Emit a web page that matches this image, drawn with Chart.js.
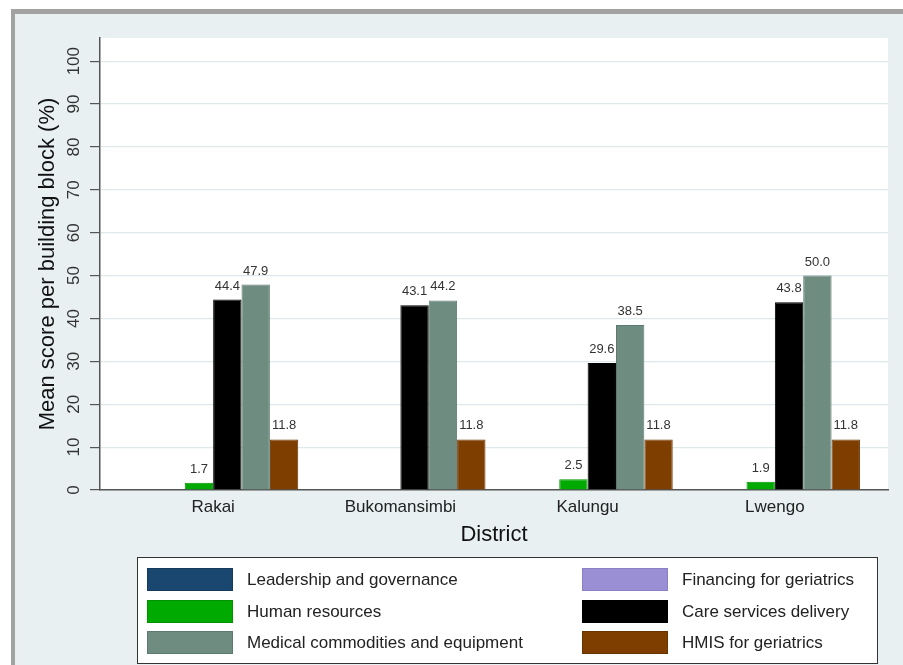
<!DOCTYPE html>
<html>
<head>
<meta charset="utf-8">
<script src="https://cdn.jsdelivr.net/npm/chart.js@4/dist/chart.umd.min.js"></script>
<style>
    html, body { margin: 0; padding: 0; background: #fff; }
    #wrap { width: 903px; height: 665px; position: relative; }
</style>
</head>
<body>
<div id="wrap"><canvas id="chart"></canvas></div>
<script>
// Data (mean score per building block, %)
const districts = ['Rakai', 'Bukomansimbi', 'Kalungu', 'Lwengo'];
const leadership = [0, 0, 0, 0];
const financing = [0, 0, 0, 0];
const humanResources = [1.7, 0, 2.5, 1.9];
const careServices = [44.4, 43.1, 29.6, 43.8];
const medicalCommodities = [47.9, 44.2, 38.5, 50.0];
const hmis = [11.8, 11.8, 11.8, 11.8];
const yTicks = [0, 10, 20, 30, 40, 50, 60, 70, 80, 90, 100];

const FONT = "'Liberation Sans', Arial, sans-serif";
Chart.defaults.font.family = FONT;

// Build points for a linear x axis (district i sits at x = i + 1)
function toPoints(values) {
    return values.map((v, i) => ({ x: i + 1, y: v }));
}

function makeSet(label, values, color, edge) {
    return {
        label: label,
        data: toPoints(values),
        backgroundColor: color,
        borderColor: edge,
        borderWidth: 1,
        categoryPercentage: 0.909,
        barPercentage: 1
    };
}

// Stata-like frame and plot region
const framePlugin = {
    id: 'frame',
    beforeDraw(chart) {
        const ctx = chart.ctx;
        const a = chart.chartArea;
        ctx.save();
        ctx.fillStyle = '#ffffff';
        ctx.fillRect(0, 0, chart.width, chart.height);
        ctx.fillStyle = '#a2a2a2';
        ctx.fillRect(11, 9, chart.width, chart.height);
        ctx.fillStyle = '#e8f0f2';
        ctx.fillRect(15, 14, chart.width, chart.height);
        ctx.fillStyle = '#ffffff';
        ctx.fillRect(a.left, a.top, a.right - a.left, a.bottom - a.top);
        ctx.restore();
    }
};

// Value labels above the bars (zeros are not labelled)
const valueLabels = {
    id: 'valueLabels',
    afterDatasetsDraw(chart) {
        const ctx = chart.ctx;
        ctx.save();
        ctx.font = '13px ' + FONT;
        ctx.fillStyle = '#333333';
        ctx.textAlign = 'center';
        ctx.textBaseline = 'alphabetic';
        chart.data.datasets.forEach((ds, di) => {
            const meta = chart.getDatasetMeta(di);
            meta.data.forEach((bar, i) => {
                const v = ds.data[i].y;
                if (!v) return;
                ctx.fillText(v.toFixed(1), bar.x, bar.y - 10);
            });
        });
        ctx.restore();
    }
};

// Two-column boxed legend below the plot
const boxLegend = {
    id: 'boxLegend',
    afterDraw(chart) {
        const ctx = chart.ctx;
        const box = { x: 137, y: 557, w: 740, h: 106 };
        const colX = [147, 582];
        const rowY = [568, 600, 631];
        ctx.save();
        ctx.fillStyle = '#ffffff';
        ctx.fillRect(box.x, box.y, box.w, box.h);
        ctx.strokeStyle = '#333333';
        ctx.lineWidth = 1;
        ctx.strokeRect(box.x + 0.5, box.y + 0.5, box.w, box.h);
        ctx.font = '17px ' + FONT;
        ctx.textBaseline = 'middle';
        ctx.textAlign = 'left';
        chart.data.datasets.forEach((ds, i) => {
            const x = colX[i % 2];
            const y = rowY[Math.floor(i / 2)];
            ctx.fillStyle = ds.backgroundColor;
            ctx.fillRect(x, y, 86, 23);
            ctx.strokeStyle = ds.borderColor;
            ctx.strokeRect(x + 0.5, y + 0.5, 85, 22);
            ctx.fillStyle = '#222222';
            ctx.fillText(ds.label, x + 100, y + 12);
        });
        ctx.restore();
    }
};

const ctx = document.getElementById('chart').getContext('2d');
new Chart(ctx, {
    type: 'bar',
    data: {
        datasets: [
            makeSet('Leadership and governance', leadership, '#1a476f', '#153a5b'),
            makeSet('Financing for geriatrics', financing, '#9a8fd4', '#8a80c4'),
            makeSet('Human resources', humanResources, '#00aa00', '#009400'),
            makeSet('Care services delivery', careServices, '#000000', '#000000'),
            makeSet('Medical commodities and equipment', medicalCommodities, '#6e8c80', '#5e7a6f'),
            makeSet('HMIS for geriatrics', hmis, '#7e3e00', '#6a3400')
        ]
    },
    options: {
        responsive: true,
        maintainAspectRatio: false,
        animation: false,
        layout: {
            padding: { top: 38, right: 15, bottom: 0, left: 0 }
        },
        plugins: {
            legend: { display: false },
            tooltip: { enabled: false }
        },
        scales: {
            x: {
                type: 'linear',
                offset: false,
                min: 0.3957,
                max: 4.6043,
                afterBuildTicks: function(scale) {
                    scale.ticks = districts.map((d, i) => ({ value: i + 1 }));
                },
                afterFit: function(scale) {
                    scale.height = 175;
                },
                grid: { display: false, drawTicks: false },
                border: { display: true, color: '#555555', width: 1.5 },
                ticks: {
                    padding: 7,
                    color: '#222222',
                    font: { size: 17 },
                    autoSkip: false,
                    maxRotation: 0,
                    callback: function(value) {
                        return districts[value - 1];
                    }
                },
                title: {
                    display: true,
                    text: 'District',
                    color: '#111111',
                    font: { size: 22 },
                    padding: { top: 0, bottom: 117 }
                }
            },
            y: {
                min: 0,
                max: 105.4,
                afterBuildTicks: function(scale) {
                    scale.ticks = yTicks.map(v => ({ value: v }));
                },
                afterFit: function(scale) {
                    scale.width = 100;
                },
                grid: {
                    color: '#dfe9ec',
                    lineWidth: 1.2,
                    tickColor: '#555555',
                    tickLength: 10
                },
                border: { display: true, color: '#555555', width: 1.5 },
                ticks: {
                    padding: 2,
                    color: '#333333',
                    font: { size: 17 },
                    minRotation: 90,
                    maxRotation: 90,
                    crossAlign: 'center',
                    autoSkip: false
                },
                title: {
                    display: true,
                    text: 'Mean score per building block (%)',
                    color: '#111111',
                    font: { size: 22 },
                    padding: { top: 35, bottom: 0 }
                }
            }
        }
    },
    plugins: [framePlugin, valueLabels, boxLegend]
});
</script>
</body>
</html>
